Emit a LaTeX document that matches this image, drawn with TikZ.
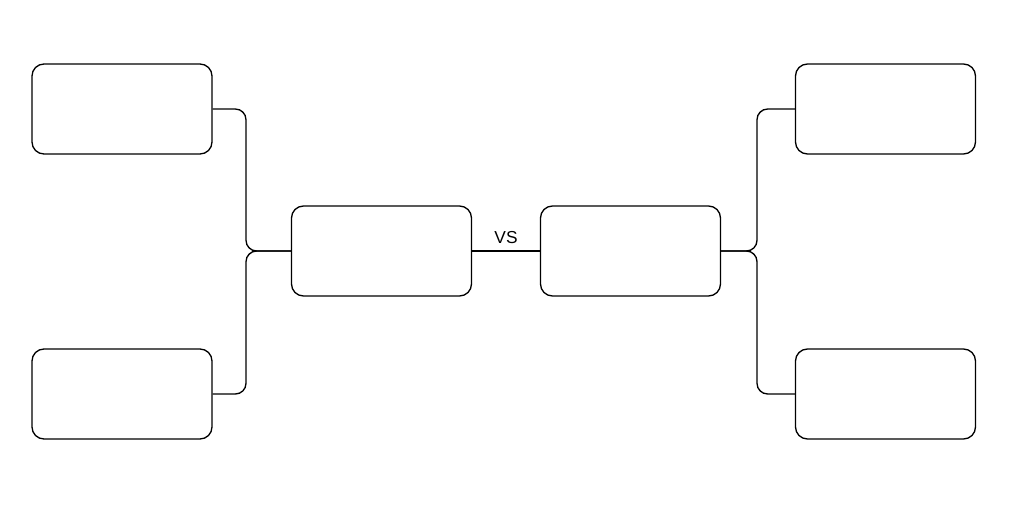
\documentclass[tikz,border=0pt]{standalone}
\usepackage{fontspec}
\setmainfont{Liberation Sans}
\usepackage{tikz}
\tikzset{
    team/.style={rectangle, draw=black, line width=1pt, rounded corners=9pt,
        minimum width=135pt, minimum height=67.5pt, inner sep=0pt},
    link/.style={draw=black, line width=1pt, rounded corners=8pt}
}

\begin{document}
\begin{tikzpicture}
  [
    x                       = 0.75pt,
    y                       = -0.75pt,
    every node/.style       = {font=\fontsize{13}{15}\selectfont},
  ]
  \useasboundingbox (0,0) rectangle (1010,508);
  % left half
  \node [team] (tl) at (122,109) {};
  \node [team] (bl) at (122,394) {};
  \node [team] (cl) at (381.5,251) {};
  % right half
  \node [team] (cr) at (630.5,251) {};
  \node [team] (tr) at (885.5,109) {};
  \node [team] (br) at (885.5,394) {};
  \coordinate (lfork) at (246,251);
  \coordinate (rfork) at (757,251);
  \draw [link] (tl.east) -| (lfork) -- (cl.west);
  \draw [link] (bl.east) -| (lfork) -- (cl.west);
  \draw [link] (tr.west) -| (rfork) -- (cr.east);
  \draw [link] (br.west) -| (rfork) -- (cr.east);
  \draw [link] (cl.east) -- node [above=2pt] (vs) {VS} (cr.west);
\end{tikzpicture}
\end{document}
